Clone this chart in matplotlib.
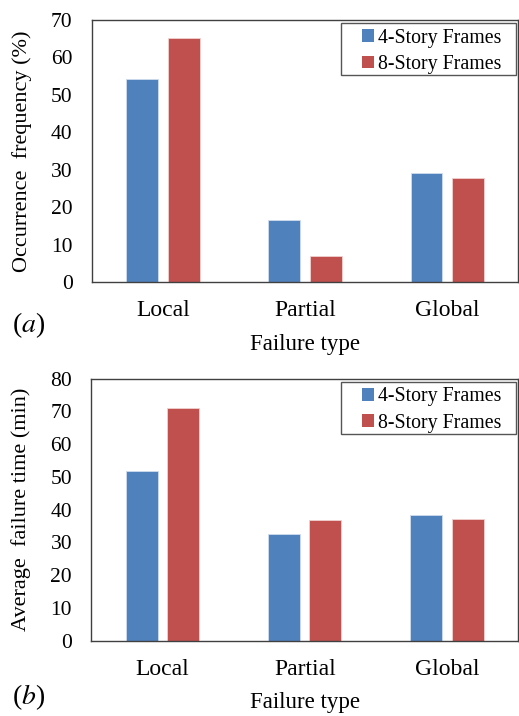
import matplotlib
matplotlib.use("Agg")
import matplotlib.pyplot as plt
from matplotlib.patches import Rectangle
import numpy as np

plt.rcParams['font.family'] = ['Liberation Serif', 'DejaVu Serif']
plt.rcParams['mathtext.fontset'] = 'stix'

categories = ["Local", "Partial", "Global"]
series_names = ["4-Story Frames", "8-Story Frames"]
freq_4 = [54.2, 16.6, 29.1]
freq_8 = [65.2, 7.0, 27.8]
time_4 = [51.7, 32.7, 38.3]
time_8 = [71.1, 36.8, 37.1]

blue = "#4F81BD"
red = "#C0504D"

fig = plt.figure(figsize=(5.19, 7.16), dpi=100)
ax1 = fig.add_axes([0.1773, 0.6061, 0.821, 0.366])
ax2 = fig.add_axes([0.1763, 0.1052, 0.822, 0.3659])

x = np.arange(len(categories))
w = 0.225
off = 0.145


def draw(ax, v4, v8, ymax, ylabel, tag, tag_y):
    ax.bar(x - off, v4, w, color=blue, edgecolor="#d0dcee", linewidth=0.6)
    ax.bar(x + off, v8, w, color=red, edgecolor="#f0d0d0", linewidth=0.6)
    ax.set_xlim(-0.5, 2.5)
    ax.set_ylim(0, ymax)
    ax.set_yticks(np.arange(0, ymax + 1, 10))
    ax.set_xticks(x)
    ax.set_xticklabels(categories, fontsize=17)
    ax.tick_params(axis='x', length=0, pad=13)
    ax.tick_params(axis='y', length=0, pad=14, labelsize=15.5)
    for s in ax.spines.values():
        s.set_color("#404040")
        s.set_linewidth(1.0)
    ax.set_ylabel(ylabel, fontsize=16, labelpad=14)
    ax.set_xlabel("Failure type", fontsize=16.5, labelpad=9)

    # legend entries (frame drawn separately for wider left margin)
    handles = [Rectangle((0, 0), 1, 1, facecolor=blue),
               Rectangle((0, 0), 1, 1, facecolor=red)]
    ax.legend(handles, series_names, loc="center left", fontsize=14.3,
              frameon=False, handlelength=0.6, handleheight=0.6,
              handletextpad=0.2, borderpad=0.0, labelspacing=0.37,
              bbox_to_anchor=(0.634, 0.88), borderaxespad=0.0)
    ax.add_patch(Rectangle((0.585, 0.79), 0.41, 0.1985,
                           transform=ax.transAxes, fill=False,
                           edgecolor="#555555", linewidth=1.0, zorder=5,
                           clip_on=False))
    ax.text(-0.187, tag_y, tag, transform=ax.transAxes, fontsize=20,
            ha="left", va="center")


draw(ax1, freq_4, freq_8, 70, "Occurrence  frequency (%)", "($a$)", -0.164)
draw(ax2, time_4, time_8, 80, "Average  failure time (min)", "($b$)", -0.215)

fig.savefig("out.png", dpi=100)
